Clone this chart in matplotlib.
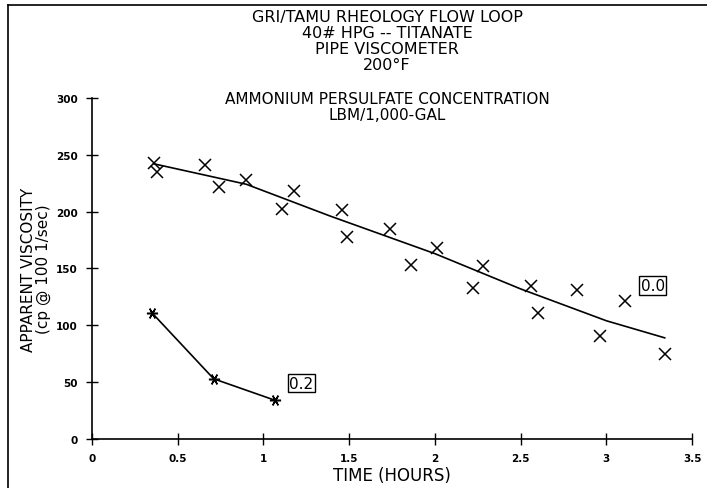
import matplotlib
matplotlib.use("Agg")
import matplotlib.pyplot as plt
from matplotlib.lines import Line2D

# 0.0 lbm/1000 gal - measured points
t_00 = [0.36, 0.38, 0.66, 0.74, 0.90, 1.11, 1.18, 1.46, 1.49, 1.74, 1.86,
        2.01, 2.22, 2.28, 2.56, 2.60, 2.83, 2.96, 3.11, 3.34]
v_00 = [243, 235, 241, 222, 228, 202, 218, 201, 178, 185, 153,
        168, 133, 152, 135, 111, 131, 91, 121, 75]
# fitted curve for 0.0
fit_t = [0.36, 0.90, 1.39, 2.00, 2.50, 3.00, 3.34]
fit_v = [242, 224, 196, 163, 132, 104, 89]

# 0.2 lbm/1000 gal
t_02 = [0.35, 0.71, 1.07]
v_02 = [111, 53, 34]

x_ticks = [0, 0.5, 1, 1.5, 2, 2.5, 3, 3.5]
x_labels = ["0", "0.5", "1", "1.5", "2", "2.5", "3", "3.5"]
y_ticks = [0, 50, 100, 150, 200, 250, 300]

fig = plt.figure(figsize=(7.07, 4.89), dpi=100)
ax = fig.add_axes([0.130, 0.100, 0.849, 0.698])

ax.plot(fit_t, fit_v, color="black", lw=1.2)
ax.plot(t_00, v_00, ls="none", marker="x", ms=8, mew=1.1, color="black")
ax.plot(t_02, v_02, color="black", lw=1.2, marker=(6, 2, 90), ms=8, mew=1.1)

box = dict(boxstyle="square,pad=0.1", fc="white", ec="black", lw=1)
ax.text(3.27, 135, "0.0", fontsize=11, ha="center", va="center", bbox=box)
ax.text(1.22, 49, "0.2", fontsize=11, ha="center", va="center", bbox=box)

ax.set_xlim(0, 3.5)
ax.set_ylim(0, 300)
ax.set_xticks(x_ticks)
ax.set_xticklabels(x_labels)
ax.set_yticks(y_ticks)
ax.tick_params(direction="inout", length=8, width=1, labelsize=7.5, pad=6)
for lab in ax.get_xticklabels() + ax.get_yticklabels():
    lab.set_fontweight("bold")
for s in ["top", "right"]:
    ax.spines[s].set_visible(False)
ax.spines["left"].set_linewidth(1.2)
ax.spines["bottom"].set_linewidth(1.2)

ax.set_xlabel("TIME (HOURS)", fontsize=12, labelpad=2)
ax.set_ylabel("APPARENT VISCOSITY\n(cp @ 100 1/sec)", fontsize=11, labelpad=4,
              linespacing=0.95)

title = ["GRI/TAMU RHEOLOGY FLOW LOOP", "40# HPG -- TITANATE",
         "PIPE VISCOMETER", "200°F"]
fig.text(387 / 707, 1 - 10 / 489, "\n".join(title), fontsize=11.5,
         ha="center", va="top", linespacing=1.07)
fig.text(387 / 707, 1 - 92 / 489,
         "AMMONIUM PERSULFATE CONCENTRATION\nLBM/1,000-GAL",
         fontsize=11, ha="center", va="top", linespacing=1.05)

# frame of the scanned page
fig.add_artist(Line2D([8 / 707, 8 / 707], [0, 1 - 6 / 489], color="black", lw=1.2))
fig.add_artist(Line2D([8 / 707, 1], [1 - 6 / 489, 1 - 6 / 489], color="black", lw=1.2))

fig.savefig("out.png", dpi=100)
